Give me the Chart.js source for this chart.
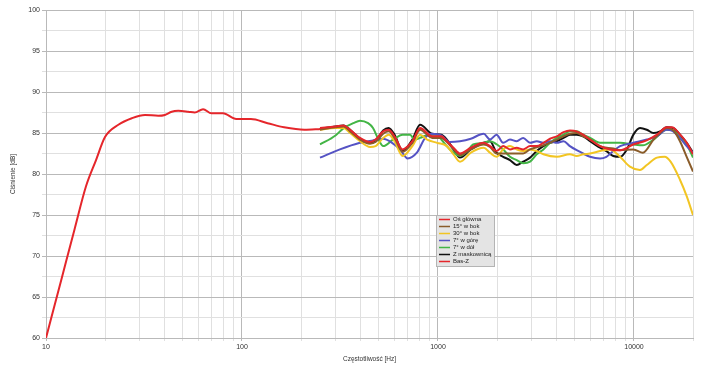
<!DOCTYPE html>
<html>
<head>
<meta charset="utf-8">
<script src="https://cdn.jsdelivr.net/npm/chart.js@4/dist/chart.umd.min.js"></script>
<style>
  html, body { margin: 0; padding: 0; background: #fff; }
  #wrap { width: 708px; height: 372px; position: relative; }
</style>
</head>
<body>
<div id="wrap"><canvas id="wykres"></canvas></div>
<script>
// tick labels
const xTickLabels = [10, 100, 1000, 10000];
const yTickLabels = [60, 65, 70, 75, 80, 85, 90, 95, 100];

// series names
const seriesNames = ['Oś główna', '15° w bok', '30° w bok', '7° w górę', '7° w dół', 'Z maskownicą', 'Bas-Z'];

// Oś główna
const osFreq = [250, 300, 330, 356, 400, 450, 480, 525, 560, 600, 660, 740, 810, 935, 1040, 1110, 1200, 1295, 1470, 1710, 1841, 1990, 2150, 2330, 2520, 2720, 2950, 3190, 3450, 3730, 4040, 4370, 4710, 5100, 5500, 5970, 6710, 7550, 8490, 9900, 11600, 13100, 14700, 15600, 17200, 18600, 20000];
const osDb = [85.6, 85.8, 85.9, 85.4, 84.4, 83.9, 84.2, 85.2, 85.4, 84.6, 83.0, 84.0, 85.6, 84.6, 84.6, 84.0, 83.2, 82.5, 83.2, 83.8, 83.4, 82.8, 83.4, 83.0, 83.2, 83.0, 83.4, 83.4, 83.8, 84.3, 84.6, 85.1, 85.3, 85.2, 84.8, 84.2, 83.4, 83.0, 82.9, 83.6, 84.1, 84.8, 85.7, 85.7, 84.8, 83.8, 82.4];

// 15° w bok
const bok15Freq = [250, 300, 330, 356, 400, 450, 480, 525, 560, 600, 660, 740, 810, 935, 1040, 1110, 1200, 1295, 1470, 1710, 1841, 1990, 2330, 2720, 2950, 3450, 4040, 4710, 5100, 5500, 5970, 6710, 7840, 8490, 9930, 11100, 12580, 13580, 14690, 15900, 17160, 18570, 20000];
const bok15Db = [85.4, 85.7, 85.8, 85.2, 84.2, 83.7, 83.9, 84.9, 85.2, 84.4, 82.7, 83.8, 85.4, 84.4, 84.4, 83.9, 83.0, 82.3, 83.0, 83.6, 83.3, 82.5, 82.5, 82.5, 83.0, 83.5, 84.2, 84.9, 85.0, 84.6, 84.2, 83.4, 83.1, 82.9, 83.0, 82.6, 84.2, 85.0, 85.6, 85.3, 84.0, 82.1, 80.3];

// 30° w bok
const bok30Freq = [250, 300, 330, 356, 400, 450, 480, 525, 560, 600, 660, 740, 810, 880, 990, 1110, 1200, 1295, 1470, 1710, 1841, 1990, 2150, 2330, 2520, 2720, 2950, 3190, 3450, 4040, 4710, 5100, 5500, 5970, 6710, 7550, 8490, 9530, 10730, 11620, 13100, 14330, 15370, 17160, 18570, 20000];
const bok30Db = [85.4, 85.6, 85.6, 85.0, 84.0, 83.3, 83.4, 84.4, 84.8, 84.0, 82.2, 83.4, 84.8, 84.2, 83.8, 83.4, 82.4, 81.5, 82.6, 83.2, 82.6, 82.1, 83.0, 83.4, 83.0, 82.8, 83.0, 82.8, 82.4, 82.1, 82.4, 82.2, 82.4, 82.5, 82.8, 83.0, 82.1, 80.9, 80.5, 81.1, 82.0, 82.1, 81.5, 79.3, 77.3, 75.0];

// 7° w górę
const goraFreq = [250, 316, 400, 466, 525, 583, 640, 700, 780, 860, 925, 1040, 1150, 1295, 1470, 1710, 1841, 1990, 2150, 2330, 2520, 2720, 2950, 3190, 3450, 3730, 4040, 4370, 4710, 5100, 5500, 5970, 6710, 7230, 7840, 8490, 9930, 11620, 13100, 14690, 15600, 17160, 18570, 20000];
const goraDb = [82.0, 83.0, 83.8, 84.1, 84.3, 83.8, 83.0, 81.9, 82.6, 84.4, 84.9, 84.7, 83.9, 84.0, 84.3, 84.9, 84.2, 84.8, 83.8, 84.2, 84.0, 84.4, 83.8, 84.0, 83.8, 84.0, 83.8, 84.0, 83.4, 82.9, 82.5, 82.1, 81.9, 82.1, 82.8, 83.4, 83.8, 84.2, 84.6, 85.4, 85.3, 84.4, 83.4, 82.6];

// 7° w dół
const dolFreq = [250, 300, 330, 370, 400, 440, 466, 497, 525, 590, 660, 720, 760, 810, 900, 990, 1040, 1150, 1295, 1400, 1510, 1710, 1841, 2000, 2150, 2330, 2520, 2720, 2950, 3190, 3450, 3730, 4040, 4370, 4710, 5100, 5500, 5970, 6710, 7550, 8490, 9930, 11100, 12580, 14690, 15900, 17160, 18570, 20000];
const dolDb = [83.6, 84.7, 85.6, 86.2, 86.5, 86.2, 85.6, 84.2, 83.4, 84.2, 84.8, 84.8, 84.2, 84.4, 84.8, 84.8, 84.2, 83.0, 82.2, 82.7, 83.6, 83.8, 84.0, 83.6, 83.0, 82.1, 81.7, 81.3, 81.5, 82.4, 83.0, 83.8, 84.4, 84.8, 85.2, 85.2, 84.8, 84.4, 83.8, 83.8, 83.8, 83.6, 83.5, 84.2, 85.4, 85.3, 84.4, 83.6, 82.0];

// Z maskownicą
const maskFreq = [250, 300, 330, 356, 400, 450, 480, 525, 560, 600, 660, 740, 810, 935, 1040, 1110, 1200, 1295, 1470, 1710, 1841, 1990, 2150, 2330, 2520, 2720, 2950, 3190, 3450, 3730, 4040, 4370, 4710, 5100, 5500, 5970, 6710, 7230, 7840, 8490, 9200, 9930, 10730, 11620, 12580, 13580, 14690, 15900, 17160, 18570, 20000];
const maskDb = [85.5, 85.8, 85.9, 85.4, 84.3, 83.8, 84.0, 85.3, 85.6, 84.8, 82.8, 84.2, 86.0, 84.9, 84.8, 84.2, 83.0, 82.0, 83.0, 83.8, 84.0, 82.6, 82.1, 81.7, 81.1, 81.5, 82.0, 82.8, 83.4, 83.8, 84.0, 84.4, 84.8, 84.8, 84.6, 84.0, 83.2, 82.8, 82.2, 82.1, 83.0, 84.8, 85.6, 85.4, 85.0, 85.2, 85.7, 85.6, 84.8, 83.8, 82.6];

// Bas-Z
const basFreq = [10, 12, 14, 16, 18, 20, 23.4, 27.4, 32, 37.4, 40.4, 43.8, 47.3, 53.1, 57.4, 63.3, 69.8, 80, 93.5, 111, 135, 164, 208, 253];
const basDb = [60, 67.2, 73.3, 78.5, 81.7, 84.5, 86.0, 86.8, 87.2, 87.1, 87.2, 87.6, 87.7, 87.6, 87.5, 87.9, 87.4, 87.4, 86.7, 86.7, 86.2, 85.7, 85.4, 85.5];

const seriesFreq = [osFreq, bok15Freq, bok30Freq, goraFreq, dolFreq, maskFreq, basFreq];
const seriesDb = [osDb, bok15Db, bok30Db, goraDb, dolDb, maskDb, basDb];
const seriesColors = ['#e5262b', '#8a5c2a', '#f2c523', '#5553c4', '#43b546', '#111111', '#e5262b'];

const FONT = '"Liberation Sans", Arial, sans-serif';

const datasets = seriesNames.map((name, i) => ({
  label: name,
  data: seriesFreq[i].map((f, j) => ({ x: f, y: seriesDb[i][j] })),
  borderColor: seriesColors[i],
  backgroundColor: seriesColors[i],
  borderWidth: 2,
  pointRadius: 0,
  cubicInterpolationMode: 'monotone',
  fill: false
}));

// legend drawn inside the plot, like the original
const legendBox = {
  id: 'legendBox',
  afterDraw(chart) {
    const ctx = chart.ctx;
    const x = 436, y = 215, w = 58, h = 51;
    ctx.save();
    ctx.fillStyle = '#e4e4e4';
    ctx.fillRect(x, y, w, h);
    ctx.strokeStyle = '#b4b4b4';
    ctx.lineWidth = 1;
    ctx.strokeRect(x + 0.5, y + 0.5, w, h);
    ctx.font = '6px ' + FONT;
    ctx.textBaseline = 'middle';
    chart.data.datasets.forEach((ds, i) => {
      const ly = y + 4.5 + i * 7;
      ctx.strokeStyle = ds.borderColor;
      ctx.lineWidth = 1.5;
      ctx.beginPath();
      ctx.moveTo(x + 3, ly);
      ctx.lineTo(x + 14, ly);
      ctx.stroke();
      ctx.fillStyle = '#222';
      ctx.fillText(ds.label, x + 17, ly);
    });
    ctx.restore();
  }
};

new Chart(document.getElementById('wykres'), {
  type: 'line',
  data: { datasets },
  plugins: [legendBox],
  options: {
    responsive: true,
    maintainAspectRatio: false,
    animation: false,
    layout: { padding: { top: 10, right: 15, left: 0, bottom: 0 } },
    plugins: { legend: { display: false }, tooltip: { enabled: false } },
    scales: {
      x: {
        type: 'logarithmic',
        min: 10,
        max: 20000,
        afterBuildTicks: (scale) => {
          const t = [];
          xTickLabels.forEach(d => {
            for (let m = 1; m <= 9; m++) {
              if (m * d <= 20000) t.push({ value: m * d });
            }
          });
          scale.ticks = t;
        },
        afterFit: (scale) => { scale.height = 34; },
        ticks: {
          autoSkip: false,
          maxRotation: 0,
          font: { family: FONT, size: 7 },
          color: '#333',
          padding: 2,
          callback: (v) => xTickLabels.includes(v) ? String(v) : ''
        },
        grid: {
          color: (c) => c.tick && xTickLabels.includes(c.tick.value) ? '#b9b9b9' : '#e0e0e0',
          tickLength: 3
        },
        border: { color: '#b9b9b9' },
        title: {
          display: true,
          text: 'Częstotliwość [Hz]',
          font: { family: FONT, size: 6.5 },
          color: '#333',
          padding: { top: 0, bottom: 9 }
        }
      },
      y: {
        min: 60,
        max: 100,
        afterBuildTicks: (scale) => {
          const t = [];
          for (let v = 60; v <= 100; v += 2.5) t.push({ value: v });
          scale.ticks = t;
        },
        afterFit: (scale) => { scale.width = 46; },
        ticks: {
          autoSkip: false,
          font: { family: FONT, size: 7 },
          color: '#333',
          padding: 2,
          callback: (v) => yTickLabels.includes(v) ? String(v) : ''
        },
        grid: {
          color: (c) => c.tick && yTickLabels.includes(c.tick.value) ? '#b9b9b9' : '#e0e0e0',
          tickLength: 4
        },
        border: { color: '#b9b9b9' },
        title: {
          display: true,
          text: 'Ciśnienie [dB]',
          font: { family: FONT, size: 6.5 },
          color: '#333',
          padding: { top: 9, bottom: 0 }
        }
      }
    }
  }
});
</script>
</body>
</html>
